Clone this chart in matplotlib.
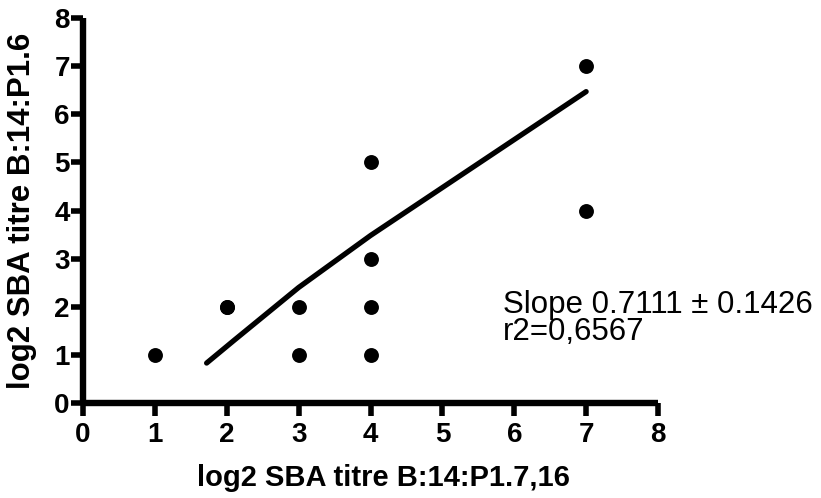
import matplotlib
matplotlib.use("Agg")
import matplotlib.pyplot as plt

# data
x_vals = [1, 2, 2, 3, 3, 4, 4, 4, 4, 7, 7]
y_vals = [1, 2, 2, 2, 1, 5, 3, 2, 1, 7, 4]
fit_x = [1.72, 2.1, 3.0, 4.0, 7.0]
fit_y = [0.83, 1.3, 2.4, 3.48, 6.47]
x_ticks = [0, 1, 2, 3, 4, 5, 6, 7, 8]
y_ticks = [0, 1, 2, 3, 4, 5, 6, 7, 8]
annot_lines = ["Slope 0.7111 \u00b1 0.1426", "r2=0,6567"]
x_label = "log2 SBA titre B:14:P1.7,16"
y_label = "log2 SBA titre B:14:P1.6"

plt.rcParams['font.family'] = ['Liberation Sans', 'DejaVu Sans']

W, H = 821, 498
fig = plt.figure(figsize=(W/100, H/100), dpi=100)
ax = fig.add_axes([83/W, 1-403/H, (658-83)/W, (403-18)/H])

ax.scatter(x_vals, y_vals, s=115, color='black', zorder=3, clip_on=False, linewidths=0)
ax.plot(fit_x, fit_y, color='black', lw=3.8, solid_capstyle='round', zorder=2)

ax.set_xlim(0, 8)
ax.set_ylim(0, 8)
ax.set_xticks(x_ticks)
ax.set_yticks(y_ticks)
for s in ['top', 'right']:
    ax.spines[s].set_visible(False)
for s in ['left', 'bottom']:
    ax.spines[s].set_linewidth(4.6)
    ax.spines[s].set_capstyle('butt')
ax.tick_params(direction='out', length=9, width=4.0, labelsize=20)
ax.tick_params(axis='x', pad=5)
ax.tick_params(axis='y', pad=0.5)
for lab in ax.get_xticklabels() + ax.get_yticklabels():
    lab.set_fontweight('bold')

fig.text(383/W, 1-478/H, x_label, fontsize=21, fontweight='bold', ha='center', va='center')
fig.text(22/W, 1-211/H, y_label, fontsize=22.5, fontweight='bold', ha='center', va='center', rotation=90)

fig.text(503/W, 1-290/H, "\n".join(annot_lines), fontsize=22.5, ha='left', va='top',
         linespacing=0.86)

fig.savefig("out.png", dpi=100)
